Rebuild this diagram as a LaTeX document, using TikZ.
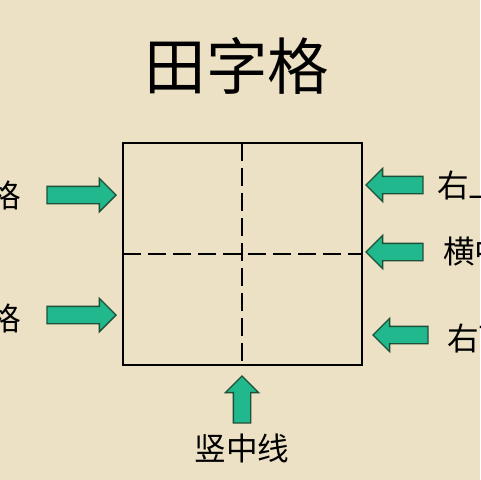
\documentclass[tikz,border=0pt]{standalone}
\usepackage{fontspec}
\newfontfamily\cjk{Noto Sans CJK SC}
\usetikzlibrary{shapes.arrows}

\definecolor{paper}{RGB}{236,225,197}
\definecolor{arrowfill}{RGB}{32,184,140}
\definecolor{arrowline}{RGB}{30,80,55}

\tikzset{
  greenarrow/.style={single arrow, draw=arrowline, fill=arrowfill, line width=0.8pt,
    inner xsep=0pt, inner ysep=0.16cm, minimum width=0.64cm,
    single arrow head extend=0.16cm, single arrow tip angle=90,
    minimum height=#1, anchor=tip},
  greenarrow/.default=1.38cm,
  label/.style={font=\cjk\fontsize{18}{20}\selectfont, text=black, inner sep=0pt},
  gridline/.style={line width=1.3pt, black},
  midline/.style={gridline, dash pattern=on 0.36cm off 0.14cm}
}

\begin{document}
\begin{tikzpicture}[x=0.02cm, y=-0.02cm]

% Background paper
\fill[paper] (0,0) rectangle (480,480);
\useasboundingbox (0,0) rectangle (480,480);
\clip (0,0) rectangle (480,480);

% Sizes of the grid
\def\gl{123} % left edge
\def\gr{362} % right edge
\def\gt{143} % top edge
\def\gb{365} % bottom edge
\def\mx{242} % vertical middle
\def\my{254} % horizontal middle

% Title
\node[font=\cjk\fontsize{35}{38}\selectfont, inner sep=0pt] (title) at (237,66) {田字格};

% The grid: outer square and dashed middle lines
\draw[midline] (\mx,\gt) -- (\mx,\gb);
\draw[midline] (\gl,\my) -- (\gr,\my);
\draw[gridline] (\gl,\gt) rectangle (\gr,\gb);

% Arrows on the left side (placed by their tips)
\node[greenarrow] (al1) at (117,195) {};
\node[greenarrow] (al2) at (117,315) {};

% Arrows on the right side
\node[greenarrow=1.14cm, shape border rotate=180] (ar1) at (365,185) {};
\node[greenarrow=1.14cm, shape border rotate=180] (ar2) at (365,252) {};
\node[greenarrow=1.10cm, shape border rotate=180] (ar3) at (372,335) {};

% Arrow below
\node[greenarrow=0.94cm, rotate=90] (ab) at (\mx,375) {};

% Labels
\node[label, anchor=east] (ll1) at (21,195) {左上格};
\node[label, anchor=east] (ll2) at (21,318) {左下格};
\node[label, anchor=west] (lr1) at (437,185) {右上格};
\node[label, anchor=west] (lr2) at (443,251) {横中线};
\node[label, anchor=west] (lr3) at (447,338) {右下格};
\node[label] (lb) at (\mx,448) {竖中线};

\end{tikzpicture}
\end{document}
